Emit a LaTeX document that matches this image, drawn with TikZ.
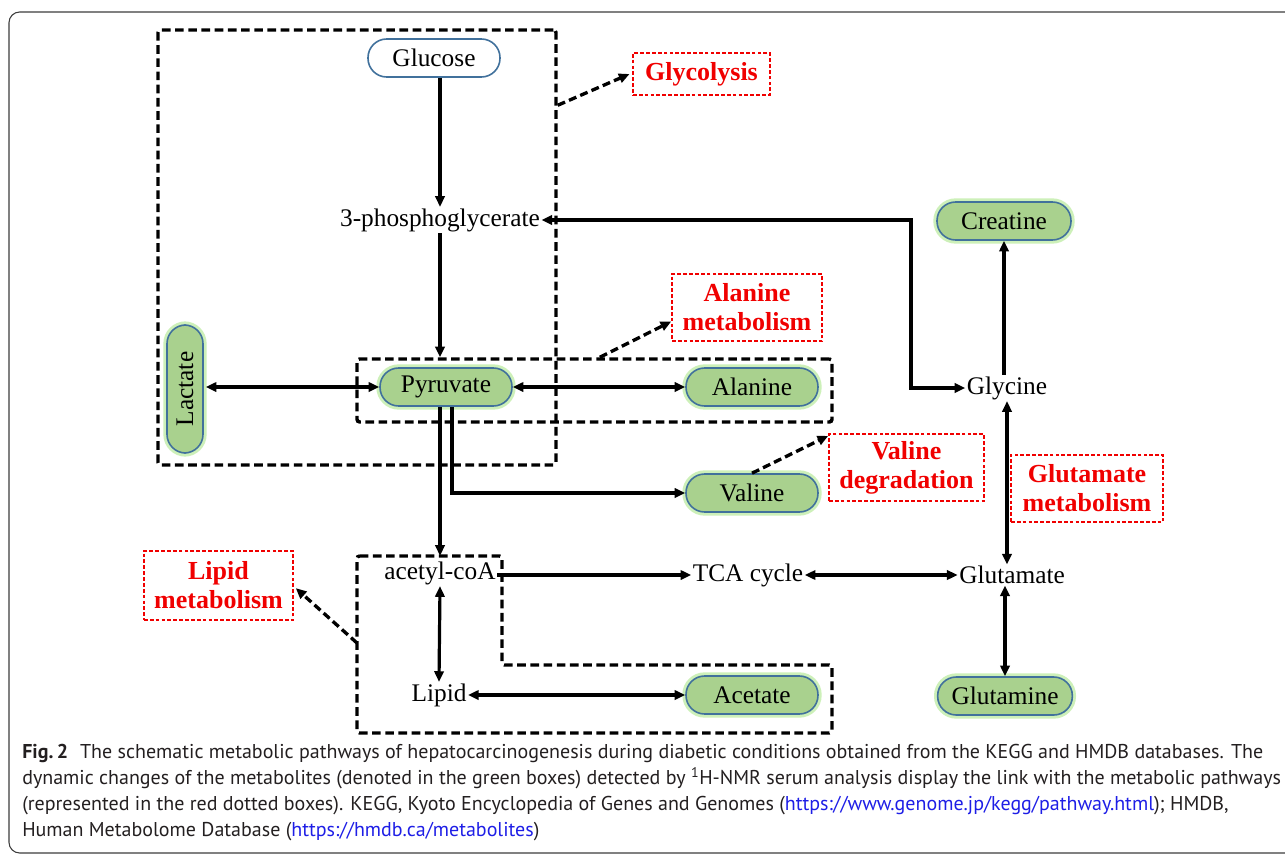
\documentclass[tikz,border=0pt]{standalone}
\usepackage{fontspec}
\setmainfont{Liberation Serif}
\newfontfamily\capfont{PT Sans}
\usetikzlibrary{arrows.meta}
\definecolor{metgreen}{RGB}{169,209,142}
\definecolor{metblue}{RGB}{65,113,156}
\definecolor{metglow}{RGB}{205,240,185}
\definecolor{labred}{RGB}{240,0,0}
\definecolor{capgray}{RGB}{35,31,32}
\definecolor{linkblue}{RGB}{30,30,230}
\definecolor{framegray}{RGB}{60,60,60}
\begin{document}
\begin{tikzpicture}[x=0.75pt,y=-0.75pt,
  met/.style={draw=metblue, line width=1.2pt, fill=metgreen, rounded corners=14pt,
    minimum width=99pt, minimum height=28.5pt, inner sep=0pt,
    font=\fontsize{19}{22}\selectfont, preaction={draw=metglow, line width=5.5pt}},
  start/.style={draw=metblue, line width=1.2pt, fill=white, rounded corners=14pt,
    minimum width=99pt, minimum height=28.5pt, inner sep=0pt,
    font=\fontsize{19}{22}\selectfont},
  plain/.style={font=\fontsize{19}{22}\selectfont, inner sep=1pt},
  lab/.style={draw=labred, line width=1.2pt, dash pattern=on 2.8pt off 1.6pt,
    text=labred, font=\bfseries\fontsize{19.5}{21.75}\selectfont, align=center,
    inner sep=0pt, minimum height=50.25pt},
  dbox/.style={draw, line width=2.6pt, dash pattern=on 6.5pt off 3.4pt, rounded corners=2pt,
    inner sep=0pt},
  tip/.tip={Triangle[length=8pt,width=7pt]},
  arr/.style={line width=2.4pt, -tip},
  darr/.style={line width=2.4pt, tip-tip},
  dasharr/.style={line width=2.5pt, dash pattern=on 6pt off 3.2pt, -tip},
  capline/.style={anchor=base west, inner sep=0pt, text=capgray,
    font=\capfont\fontsize{15}{18}\selectfont}
]
\useasboundingbox (0,0) rectangle (1285,856);
\draw[framegray, line width=0.8pt, rounded corners=8pt] (9,12) rectangle (1310,853);

% dashed group boxes
\node[dbox, minimum width=298.5pt, minimum height=326.25pt] (glybox) at (357,247.5) {};
\node[dbox, minimum width=356.25pt, minimum height=47.25pt] (alabox) at (594.5,390.5) {};
\draw[dbox] (357,556) -- (502,556) -- (502,665) -- (832,665) -- (832,733) -- (357,733) -- cycle;
\coordinate (lipside) at (357,643);

% metabolites
\node[start] (glu) at (434,58) {Glucose};
\node[plain] (pg3) at (440,220) {3-phosphoglycerate};
\node[met] (pyr) at (446,387) {Pyruvate};
\node[met, rotate=90, minimum width=96pt, minimum height=27pt] (lac) at (185,389) {Lactate};
\node[met] (ala) at (752,387) {Alanine};
\node[met] (val) at (752,493) {Valine};
\node[met] (ace) at (752,695) {Acetate};
\node[met, minimum width=100.5pt] (cre) at (1004,221) {Creatine};
\node[met, minimum width=101pt] (glm) at (1005,696) {Glutamine};
\node[plain] (gly) at (1007,388) {Glycine};
\node[plain] (glut) at (1012,575) {Glutamate};
\node[plain] (tca) at (748,575) {TCA cycle};
\node[plain] (acoa) at (440,573) {acetyl-coA};
\node[plain] (lipid) at (439,695) {Lipid};

% pathway labels
\node[lab, minimum width=102.75pt, minimum height=31.5pt] (lglyc) at (701.5,74) {Glycolysis};
\node[lab, minimum width=112.5pt] (lala) at (747,307.5) {Alanine\\metabolism};
\node[lab, minimum width=116.25pt] (lval) at (906.5,467.5) {Valine\\degradation};
\node[lab, minimum width=114pt] (lglu) at (1087,488.5) {Glutamate\\metabolism};
\node[lab, minimum width=111.75pt, minimum height=51.75pt] (llip) at (218.5,585.5) {Lipid\\metabolism};

% connectors
\draw[arr] (glu.south -| pg3) -- (pg3.north);
\draw[arr] (pg3.south) -- (pg3.south |- alabox.north);
\draw[darr] ([xshift=1.5pt]lac.south |- pyr) -- (pyr.west);
\draw[darr] (pyr.east) -- (ala.west);
\draw[arr] ([xshift=-4.5pt]pyr.south) -- ([xshift=-4.5pt,yshift=3pt]pyr.south |- acoa.north);
\draw[arr] ([xshift=4.5pt]pyr.south) |- (val.west);
\draw[arr] (acoa.east |- tca) -- (tca.west);
\draw[darr] (tca.east) -- (glut.west);
\draw[darr] (glut.north -| gly) -- (gly.south);
\draw[darr] (glut.south -| glm) -- (glm.north);
\draw[arr] (gly.north -| cre) -- (cre.south);
\coordinate (turn) at (911,220);
\draw[darr] (pg3.east) -- (turn) |- (gly.west);
\draw[darr] (acoa.south) -- (lipid.north);
\draw[darr] (lipid.east) -- (ace.west);

% dashed pointers to pathway labels
\draw[dasharr] ([yshift=-57.75pt]glybox.north east) -- ([xshift=-2pt]lglyc.west);
\draw[dasharr] ([xshift=4pt]alabox.north) -- ([yshift=-10.5pt]lala.west);
\draw[dasharr] (val.north) -- ([yshift=-2pt]lval.north west);
\draw[dasharr] (lipside) -- ([xshift=1.5pt,yshift=-2pt]llip.east);

% caption
\node[capline] (c1) at (22,758) {\textbf{Fig.\,2}\hspace{0.6em}The schematic metabolic pathways of hepatocarcinogenesis during diabetic conditions obtained from the KEGG and HMDB databases. The};
\node[capline] (c2) at (22,784) {dynamic changes of the metabolites (denoted in the green boxes) detected by \textsuperscript{1}H-NMR serum analysis display the link with the metabolic pathways};
\node[capline] (c3) at (22,810) {(represented in the red dotted boxes). KEGG, Kyoto Encyclopedia of Genes and Genomes (\textcolor{linkblue}{https://www.genome.jp/kegg/pathway.html}); HMDB,};
\node[capline] (c4) at (22,836) {Human Metabolome Database (\textcolor{linkblue}{https://hmdb.ca/metabolites})};
\end{tikzpicture}
\end{document}
